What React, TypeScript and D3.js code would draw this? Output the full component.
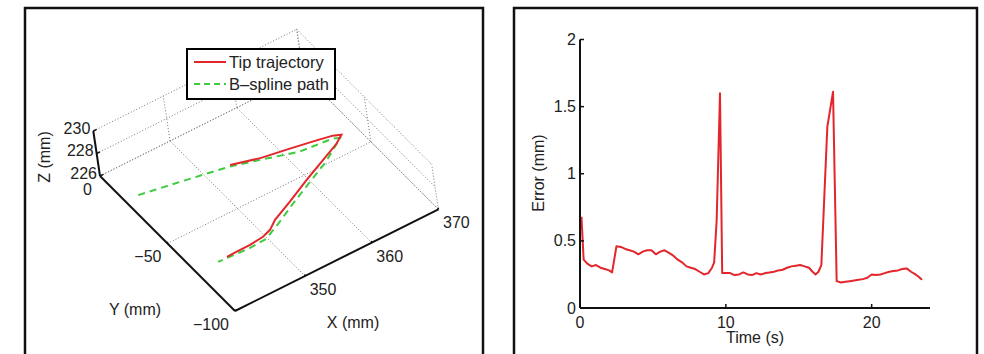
import React from 'react';
import * as d3 from 'd3';

// ---- left panel: 3D tip trajectory vs planned B-spline path ----
const X_TICKS = [350, 360, 370];
const Y_TICKS = [-100, -50, 0];
const Z_TICKS = [226, 228, 230];
const X_RANGE = [339.5, 370];
const Y_RANGE = [0, -100];
const Z_RANGE = [226, 230];

const tipX = [351.7, 355.4, 359.2, 362.7, 364.8, 365.75, 364.35, 361.5, 357.85, 354.0, 350.7, 349.2, 347.8, 345.7, 343.7, 342.2];
const tipY = [-38.6, -42.7, -45.9, -48.4, -50.1, -51.8, -55.0, -59.1, -64.9, -71.5, -76.8, -80.5, -82.2, -83.0, -83.0, -83.2];
const tipZ = [228.0, 228.0, 228.1, 228.1, 228.1, 228.1, 228.1, 228.0, 228.0, 228.0, 228.0, 228.0, 228.0, 228.0, 228.0, 228.0];

const splineX = [339.5, 345.0, 351.5, 355.2, 360.0, 364.6, 365.4, 361.6, 357.8, 353.9, 350.6, 347.9, 345.4, 340.8];
const splineY = [-30.8, -34.6, -39.3, -43.5, -49.2, -50.9, -52.4, -60.7, -67.0, -73.6, -79.6, -84.0, -84.5, -83.5];
const splineZ = [228.0, 228.0, 228.0, 228.0, 228.0, 228.0, 228.0, 228.0, 228.0, 228.0, 228.0, 228.0, 228.0, 228.0];

// ---- right panel: tracking error over time ----
const errTime = [
  0.1, 0.25, 0.5, 0.8, 1.1, 1.4, 1.7, 2.0, 2.2, 2.5, 2.8, 3.1, 3.4, 3.7, 4.0, 4.3, 4.6, 4.9, 5.2, 5.5,
  5.8, 6.1, 6.4, 6.7, 7.0, 7.3, 7.6, 7.9, 8.2, 8.5, 8.8, 9.05, 9.2, 9.37, 9.6, 9.75, 10.0, 10.3, 10.6, 10.9,
  11.2, 11.5, 11.8, 12.1, 12.4, 12.7, 13.0, 13.3, 13.6, 13.9, 14.2, 14.5, 14.8, 15.1, 15.4, 15.7, 15.95, 16.15, 16.35, 16.55,
  16.96, 17.35, 17.6, 17.9, 18.2, 18.5, 18.8, 19.1, 19.4, 19.7, 20.0, 20.3, 20.6, 20.9, 21.2, 21.5, 21.8, 22.1, 22.4, 22.7,
  23.0, 23.2, 23.45,
];
const errValue = [
  0.68, 0.36, 0.33, 0.31, 0.32, 0.30, 0.29, 0.28, 0.265, 0.46, 0.455, 0.44, 0.43, 0.42, 0.40, 0.42, 0.43, 0.43, 0.40, 0.42,
  0.43, 0.41, 0.39, 0.36, 0.34, 0.31, 0.30, 0.29, 0.27, 0.25, 0.26, 0.30, 0.34, 0.65, 1.60, 0.26, 0.26, 0.26, 0.245, 0.25,
  0.265, 0.25, 0.245, 0.26, 0.25, 0.26, 0.265, 0.27, 0.28, 0.285, 0.30, 0.31, 0.315, 0.32, 0.31, 0.30, 0.27, 0.25, 0.27, 0.32,
  1.35, 1.61, 0.20, 0.19, 0.195, 0.20, 0.205, 0.21, 0.215, 0.225, 0.25, 0.245, 0.25, 0.26, 0.27, 0.275, 0.28, 0.29, 0.295, 0.27,
  0.25, 0.235, 0.21,
];
const errYTicks = [0, 0.5, 1, 1.5, 2];
const errYLabels = ['0', '0.5', '1', '1.5', '2'];
const errXTicks = [0, 10, 20];

const FONT = 'Liberation Sans, Arial, Helvetica, sans-serif';
const RED = '#e3262b';
const GREEN = '#3dcc3d';

type P3 = [number, number, number];

const Plot3D = () => {
  // where the cube sits on screen
  const origin = [100, 176];
  const vx = [203.4, -101.7];
  const vy = [135, 135];
  const vz = [-6.7, -45];

  const fx = d3.scaleLinear().domain(X_RANGE).range([0, 1]);
  const fy = d3.scaleLinear().domain(Y_RANGE).range([0, 1]);
  const fz = d3.scaleLinear().domain(Z_RANGE).range([0, 1]);
  const proj = ([x, y, z]: P3): [number, number] => [
    origin[0] + fx(x) * vx[0] + fy(y) * vy[0] + fz(z) * vz[0],
    origin[1] + fx(x) * vx[1] + fy(y) * vy[1] + fz(z) * vz[1],
  ];
  const seg = (a: P3, b: P3) => d3.line()([proj(a), proj(b)]) as string;

  const [x0, x1] = X_RANGE;
  const [yBack, yFront] = Y_RANGE;
  const [z0, z1] = Z_RANGE;

  // dotted grid on floor and back walls
  const grid: [P3, P3][] = [];
  X_TICKS.forEach(x => {
    grid.push([[x, yFront, z0], [x, yBack, z0]]);
    grid.push([[x, yBack, z0], [x, yBack, z1]]);
  });
  Y_TICKS.forEach(y => {
    grid.push([[x0, y, z0], [x1, y, z0]]);
    grid.push([[x1, y, z0], [x1, y, z1]]);
  });
  Z_TICKS.forEach(z => {
    grid.push([[x0, yBack, z], [x1, yBack, z]]);
    grid.push([[x1, yBack, z], [x1, yFront, z]]);
  });

  const line3 = (xs: number[], ys: number[], zs: number[]) =>
    d3.line().curve(d3.curveLinear)(xs.map((x, i) => proj([x, ys[i], zs[i]]))) as string;

  return (
    <g fontFamily={FONT}>
      {grid.map((g, i) => (
        <path key={i} d={seg(g[0], g[1])} stroke="#777" strokeWidth={1} strokeDasharray="1,2" fill="none" />
      ))}

      {/* axes */}
      <path d={seg([x0, yBack, z0], [x0, yBack, z1])} stroke="#111" strokeWidth={2} fill="none" />
      <path d={seg([x0, yBack, z0], [x0, yFront, z0])} stroke="#111" strokeWidth={2} fill="none" />
      <path d={seg([x0, yFront, z0], [x1, yFront, z0])} stroke="#111" strokeWidth={2} fill="none" />

      {X_TICKS.map(x => {
        const p = proj([x, yFront, z0]);
        return (
          <g key={x}>
            <path d={seg([x, yFront, z0], [x, yFront, z0 + 0.15])} stroke="#111" strokeWidth={1.5} />
            <text x={p[0] + 18} y={p[1] + 19} fontSize={16} textAnchor="middle" fill="#222">{x}</text>
          </g>
        );
      })}
      {Y_TICKS.map(y => {
        const p = proj([x0, y, z0]);
        return (
          <g key={y}>
            {y !== 0 && <path d={seg([x0, y, z0], [x0, y, z0 + 0.15])} stroke="#111" strokeWidth={1.5} />}
            <text x={p[0] - (y === 0 ? 8 : 6)} y={p[1] + 18.5} fontSize={16} textAnchor="end" fill="#222">
              {y < 0 ? `\u2212${-y}` : y}
            </text>
          </g>
        );
      })}
      {Z_TICKS.map(z => {
        const p = proj([x0, yBack, z]);
        return (
          <g key={z}>
            <path d={seg([x0, yBack, z], [x0 + 0.5, yBack, z])} stroke="#111" strokeWidth={1.5} />
            <text x={p[0] - 3} y={p[1] + 2.5} fontSize={16} textAnchor="end" fill="#222">{z}</text>
          </g>
        );
      })}

      <text x={353} y={328} fontSize={16} textAnchor="middle" fill="#222">X (mm)</text>
      <text x={135} y={315} fontSize={16} textAnchor="middle" fill="#222">Y (mm)</text>
      <text transform="translate(50,157) rotate(-90)" fontSize={16} textAnchor="middle" fill="#222">Z (mm)</text>

      <path d={line3(splineX, splineY, splineZ)} stroke={GREEN} strokeWidth={2} strokeDasharray="7,5" fill="none" />
      <path d={line3(tipX, tipY, tipZ)} stroke={RED} strokeWidth={2} fill="none" />

      {/* legend */}
      <rect x={187} y={49} width={148} height={50} fill="#fff" stroke="#000" strokeWidth={2} />
      <line x1={194} x2={226} y1={62} y2={62} stroke={RED} strokeWidth={2} />
      <text x={229} y={67.5} fontSize={16.5} fill="#222">Tip trajectory</text>
      <line x1={194} x2={226} y1={84} y2={84} stroke={GREEN} strokeWidth={2} strokeDasharray="6,4" />
      <text x={229} y={89.5} fontSize={16.5} fill="#222">B–spline path</text>
    </g>
  );
};

const ErrorPlot = () => {
  const x = d3.scaleLinear().domain([0, 24]).range([580, 930]);
  const y = d3.scaleLinear().domain([0, 2]).range([308, 39.5]);
  const path = d3.line<number>()
    .x((_, i) => x(errTime[i]))
    .y(v => y(v))(errValue) as string;

  return (
    <g fontFamily={FONT} fill="#222">
      <path d={path} stroke={RED} strokeWidth={2} fill="none" strokeLinejoin="round" />
      <line x1={x(0)} x2={x(0)} y1={y(0)} y2={y(2)} stroke="#111" strokeWidth={2} />
      <line x1={x(0)} x2={x(24)} y1={y(0)} y2={y(0)} stroke="#111" strokeWidth={2} />
      {errYTicks.map((t, i) => (
        <g key={t}>
          <line x1={x(0)} x2={x(0) + 4} y1={y(t)} y2={y(t)} stroke="#111" strokeWidth={1.5} />
          <text x={x(0) - 4} y={y(t) + 5.5} fontSize={16} textAnchor="end">{errYLabels[i]}</text>
        </g>
      ))}
      {errXTicks.map(t => (
        <g key={t}>
          <line x1={x(t)} x2={x(t)} y1={y(0)} y2={y(0) - 4} stroke="#111" strokeWidth={1.5} />
          <text x={x(t)} y={y(0) + 20} fontSize={16} textAnchor="middle">{t}</text>
        </g>
      ))}
      <text x={755} y={343} fontSize={16} textAnchor="middle">Time (s)</text>
      <text transform="translate(544,173) rotate(-90)" fontSize={16} textAnchor="middle">Error (mm)</text>
    </g>
  );
};

export default function App() {
  return (
    <svg width={984} height={354} style={{ position: 'absolute', left: 0, top: 0, background: '#fff' }}>
      <rect x={0} y={0} width={984} height={354} fill="#fff" />
      <rect x={25} y={8} width={458} height={360} fill="none" stroke="#111" strokeWidth={2.5} />
      <rect x={514} y={8} width={463} height={360} fill="none" stroke="#111" strokeWidth={2.5} />
      <Plot3D />
      <ErrorPlot />
    </svg>
  );
}
